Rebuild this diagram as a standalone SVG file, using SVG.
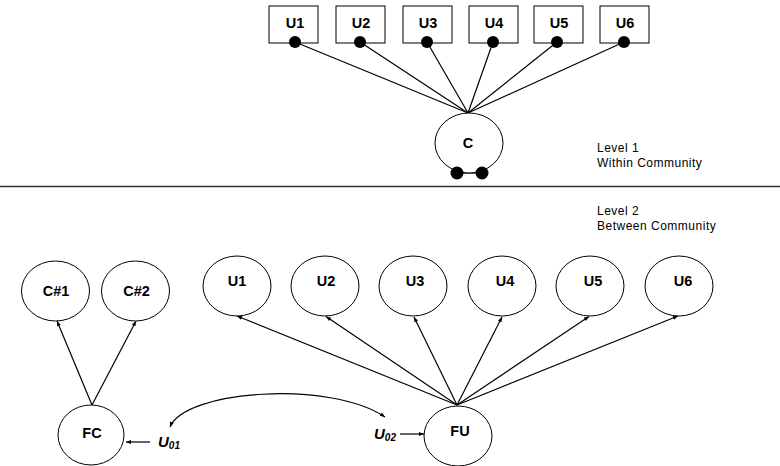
<svg xmlns="http://www.w3.org/2000/svg" width="780" height="466" viewBox="0 0 780 466">
  <defs>
    <marker id="arrow" viewBox="0 0 10 10" refX="10" refY="5" markerWidth="6" markerHeight="5" orient="auto-start-reverse" markerUnits="userSpaceOnUse">
      <path d="M0,1 L10,5 L0,9 Z" fill="#000"/>
    </marker>
    <style>
      .box { fill: #fff; stroke: #000; stroke-width: 1; }
      .node { fill: #fff; stroke: #000; stroke-width: 1; }
      .dot { fill: #000; }
      .edge { fill: none; stroke: #000; stroke-width: 1.2; }
      .arr { fill: none; stroke: #000; stroke-width: 1.2; marker-end: url(#arrow); }
      .lbl { font-family: "Liberation Sans", Arial, sans-serif; font-weight: bold; font-size: 14.5px; text-anchor: middle; fill: #000; }
      .note { font-family: "Liberation Sans", Arial, sans-serif; font-size: 12px; letter-spacing: 0.5px; fill: #000; }
      .err { font-family: "Liberation Sans", Arial, sans-serif; font-weight: bold; font-style: italic; fill: #000; }
    </style>
  </defs>

  <!-- Level 1: within-community model -->
  <g id="connectors-level1">
    <line class="edge" x1="295" y1="42" x2="468" y2="113"/>
    <line class="edge" x1="360" y1="42" x2="468" y2="113"/>
    <line class="edge" x1="427" y1="42" x2="468" y2="113"/>
    <line class="edge" x1="493" y1="42" x2="468" y2="113"/>
    <line class="edge" x1="557" y1="42" x2="468" y2="113"/>
    <line class="edge" x1="624" y1="42" x2="468" y2="113"/>
    <line class="edge" x1="457" y1="173" x2="482" y2="173"/>
  </g>

  <g id="box-u1"><rect class="box" x="269" y="6" width="49" height="37"/><text class="lbl" x="295" y="28">U1</text><circle class="dot" cx="295" cy="42" r="6"/></g>
  <g id="box-u2"><rect class="box" x="336" y="6" width="49" height="37"/><text class="lbl" x="361" y="28">U2</text><circle class="dot" cx="360" cy="42" r="6"/></g>
  <g id="box-u3"><rect class="box" x="403" y="6" width="49" height="37"/><text class="lbl" x="428" y="28">U3</text><circle class="dot" cx="427" cy="42" r="6"/></g>
  <g id="box-u4"><rect class="box" x="469" y="6" width="49" height="37"/><text class="lbl" x="494" y="28">U4</text><circle class="dot" cx="493" cy="42" r="6"/></g>
  <g id="box-u5"><rect class="box" x="534" y="6" width="49" height="37"/><text class="lbl" x="559" y="28">U5</text><circle class="dot" cx="557" cy="42" r="6"/></g>
  <g id="box-u6"><rect class="box" x="600" y="6" width="49" height="37"/><text class="lbl" x="625" y="28">U6</text><circle class="dot" cx="624" cy="42" r="6"/></g>

  <g id="node-c">
    <ellipse class="node" cx="469" cy="143" rx="34" ry="30"/>
    <text class="lbl" x="468" y="148">C</text>
    <circle class="dot" cx="457" cy="173" r="6.5"/>
    <circle class="dot" cx="482" cy="173" r="6.5"/>
  </g>

  <g id="note-level1">
    <text class="note" x="597" y="152">Level 1</text>
    <text class="note" x="597" y="167">Within Community</text>
  </g>

  <line x1="0" y1="186.5" x2="780" y2="186.5" stroke="#333" stroke-width="1.3"/>

  <g id="note-level2">
    <text class="note" x="597" y="215">Level 2</text>
    <text class="note" x="597" y="230">Between Community</text>
  </g>

  <!-- Level 2: between-community model -->
  <g id="connectors-level2">
    <line class="arr" x1="92" y1="405" x2="57" y2="321"/>
    <line class="arr" x1="92" y1="405" x2="136" y2="321"/>
    <line class="arr" x1="457" y1="405" x2="237" y2="316"/>
    <line class="arr" x1="457" y1="405" x2="326" y2="316.5"/>
    <line class="arr" x1="457" y1="405" x2="414" y2="317"/>
    <line class="arr" x1="457" y1="405" x2="502" y2="317"/>
    <line class="arr" x1="457" y1="405" x2="589" y2="316.5"/>
    <line class="arr" x1="457" y1="405" x2="678" y2="316"/>
    <line class="arr" x1="150" y1="442" x2="126" y2="442"/>
    <line class="arr" x1="400" y1="434" x2="424" y2="434"/>
    <path class="arr" style="marker-start: url(#arrow)" d="M170,427 C185,390 330,380 385,417"/>
  </g>

  <g id="node-c1"><ellipse class="node" cx="55.5" cy="291" rx="34" ry="30"/><text class="lbl" x="56" y="296">C#1</text></g>
  <g id="node-c2"><ellipse class="node" cx="135.5" cy="291" rx="34" ry="30"/><text class="lbl" x="136.5" y="296">C#2</text></g>

  <g id="node-l2-u1"><ellipse class="node" cx="237" cy="286" rx="34" ry="30"/><text class="lbl" x="237" y="286">U1</text></g>
  <g id="node-l2-u2"><ellipse class="node" cx="325" cy="286" rx="34" ry="30"/><text class="lbl" x="326" y="286">U2</text></g>
  <g id="node-l2-u3"><ellipse class="node" cx="413" cy="286" rx="34" ry="30"/><text class="lbl" x="415" y="286">U3</text></g>
  <g id="node-l2-u4"><ellipse class="node" cx="502" cy="286" rx="34" ry="30"/><text class="lbl" x="505" y="286">U4</text></g>
  <g id="node-l2-u5"><ellipse class="node" cx="590" cy="286" rx="34" ry="30"/><text class="lbl" x="593" y="286">U5</text></g>
  <g id="node-l2-u6"><ellipse class="node" cx="679" cy="286" rx="34" ry="30"/><text class="lbl" x="683" y="286">U6</text></g>

  <g id="node-fc"><ellipse class="node" cx="91" cy="435" rx="33" ry="30"/><text class="lbl" x="92" y="438">FC</text></g>
  <g id="node-fu"><ellipse class="node" cx="458" cy="436" rx="34" ry="30"/><text class="lbl" x="460" y="436">FU</text></g>

  <g id="label-u01"><text class="err" x="158" y="447" font-size="15">U<tspan font-size="10" dy="2">01</tspan></text></g>
  <g id="label-u02"><text class="err" x="374" y="439" font-size="15">U<tspan font-size="10" dy="2">02</tspan></text></g>
</svg>
